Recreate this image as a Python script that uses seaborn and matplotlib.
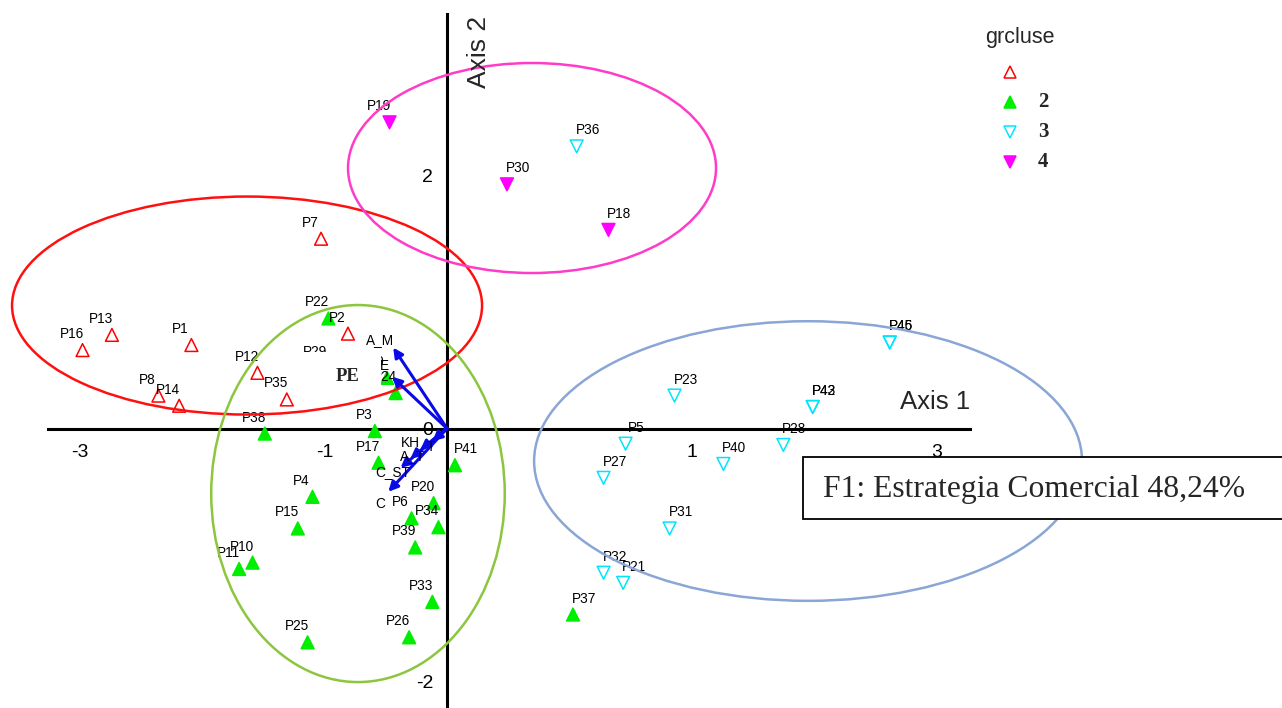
import numpy as np
import pandas as pd
import matplotlib
matplotlib.use("Agg")
import matplotlib.pyplot as plt
import seaborn as sns
from matplotlib.patches import Ellipse, Rectangle
from matplotlib.lines import Line2D

# ---------------- data ----------------
point_names = ["P16", "P13", "P1", "P12", "P8", "P14", "P35", "P2", "P7", "P29",
               "P22", "P38", "P3", "P9", "P24", "P17", "P41", "P4", "P15", "P20",
               "P6", "P34", "P39", "P10", "P11", "P33", "P25", "P26", "P37",
               "P36", "P45", "P46", "P23", "P42", "P43", "P5", "P28", "P40", "P27",
               "P31", "P32", "P21",
               "P19", "P30", "P18"]
axis1 = [-2.98, -2.74, -2.09, -1.55, -2.36, -2.19, -1.31, -0.81, -1.03, -0.99,
         -0.97, -1.49, -0.59, -0.49, -0.42, -0.56, 0.065, -1.10, -1.22, -0.11,
         -0.29, -0.07, -0.26, -1.59, -1.70, -0.12, -1.14, -0.31, 1.03,
         1.06, 3.62, 3.62, 1.86, 2.99, 2.99, 1.46, 2.75, 2.26, 1.28,
         1.82, 1.28, 1.44,
         -0.47, 0.49, 1.32]
axis2 = [0.62, 0.74, 0.66, 0.44, 0.26, 0.18, 0.23, 0.75, 1.50, 0.48,
         0.87, -0.04, -0.02, 0.40, 0.28, -0.27, -0.29, -0.54, -0.79, -0.59,
         -0.71, -0.78, -0.94, -1.06, -1.11, -1.37, -1.69, -1.65, -1.47,
         2.23, 0.68, 0.68, 0.26, 0.17, 0.17, -0.12, -0.13, -0.28, -0.39,
         -0.79, -1.14, -1.22,
         2.42, 1.93, 1.57]
grcluse = [1] * 10 + [2] * 19 + [3] * 13 + [4] * 3

# variable vectors (arrows)
var_names = ["A_M", "E", "T", "KH", "A_T", "C_ST", "C"]
var_axis1 = [-0.44, -0.45, -0.12, -0.22, -0.30, -0.38, -0.48]
var_axis2 = [0.64, 0.41, -0.10, -0.17, -0.24, -0.31, -0.50]

# cluster ellipses (centre, width, height)
ell_cluster = [1, 2, 3, 4]
ell_cx = [-1.635, -0.728, 2.952, 0.695]
ell_cy = [0.972, -0.514, -0.257, 2.059]
ell_w = [3.843, 2.40, 4.48, 3.009]
ell_h = [1.723, 2.98, 2.21, 1.66]

legend_labels = ["", "2", "3", "4"]
x_ticks = [-3, -2, -1, 1, 2, 3, 4]
x_ticklabels = ["-3", "", "-1", "", "1", "", "3"]
y_ticks = [-2, -1, 0, 1, 2, 3]
y_ticklabels = ["-2", "", "0", "", "2", ""]
box_text = "F1: Estrategia Comercial 48,24%"

# ---------------- styles ----------------
marker_col = {1: "#ff0000", 2: "#00ee00", 3: "#00e5ff", 4: "#ff00ff"}
marker_sym = {1: "^", 2: "^", 3: "v", 4: "v"}
marker_fill = {1: False, 2: True, 3: False, 4: True}
ell_col = {1: "#ff1010", 2: "#8cc63f", 3: "#8aa6d6", 4: "#ff3cc8"}

sns.set_theme(style="white")
plt.rcParams["font.family"] = ["Liberation Sans", "DejaVu Sans"]

W, H = 1282, 708
fig = plt.figure(figsize=(W / 100, H / 100), dpi=100)
ax = fig.add_axes([0, 0, 1, 1])
ax.set_xlim(-3.655, 6.827)
ax.set_ylim(-2.209, 3.387)
ax.set_facecolor("white")

df = pd.DataFrame({"name": point_names, "Axis1": axis1, "Axis2": axis2, "grcluse": grcluse})

sns.scatterplot(data=df, x="Axis1", y="Axis2", hue="grcluse", style="grcluse",
                palette=marker_col, markers=marker_sym, s=85, legend=False,
                ax=ax, zorder=3)
coll = ax.collections[-1]
fcs = [marker_col[g] if marker_fill[g] else "none" for g in df["grcluse"]]
ecs = [marker_col[g] for g in df["grcluse"]]
coll.set_facecolors(fcs)
coll.set_edgecolors(ecs)
coll.set_linewidths(1.1)

for n, x, y in zip(df["name"], df["Axis1"], df["Axis2"]):
    dx = -11 if x < 0 else 11
    ax.annotate(n, (x, y), xytext=(dx, 16), textcoords="offset pixels",
                ha="center", va="center", fontsize=9.8, color="black", zorder=4)

# white box behind "PE" (hides overlapping marks as in original)
ax.add_patch(Rectangle((-1.177, 0.225), 0.64, 0.38, facecolor="white",
                       edgecolor="none", zorder=5))
ax.text(-0.81, 0.415, "PE", family="Liberation Serif", fontweight="bold",
        fontsize=13.5, ha="center", va="center", zorder=9)

# cluster ellipses
for g, cx, cy, w, h in zip(ell_cluster, ell_cx, ell_cy, ell_w, ell_h):
    ax.add_patch(Ellipse((cx, cy), w, h, fill=False, edgecolor=ell_col[g],
                         lw=1.8, zorder=6))

# variable arrows
lab_off = {"A_M": (-13, 8), "E": (-8, 11), "T": (-1, -6), "KH": (-10, 7),
           "A_T": (2, 3), "C_ST": (-8, -4), "C": (-8, -12)}
for n, x, y in zip(var_names, var_axis1, var_axis2):
    ax.annotate("", xy=(x, y), xytext=(0, 0),
                arrowprops=dict(arrowstyle="-|>", color="#0a0ae6", lw=2.2,
                                mutation_scale=14, shrinkA=0, shrinkB=0),
                zorder=7)
    ax.annotate(n, (x, y), xytext=lab_off[n], textcoords="offset pixels",
                ha="center", va="center", fontsize=9.8, color="black", zorder=8)

# axes through origin
for s in ["top", "right"]:
    ax.spines[s].set_visible(False)
ax.spines["left"].set_position(("data", 0))
ax.spines["bottom"].set_position(("data", 0))
ax.spines["left"].set_bounds(-2.21, 3.28)
ax.spines["bottom"].set_bounds(-3.26, 4.28)
for s in ["left", "bottom"]:
    ax.spines[s].set_color("black")
    ax.spines[s].set_linewidth(2.2)
    ax.spines[s].set_zorder(2)
ax.set_xticks(x_ticks)
ax.set_xticklabels(x_ticklabels)
ax.set_yticks(y_ticks)
ax.set_yticklabels(y_ticklabels)
ax.tick_params(axis="both", direction="inout", length=10, width=1.6,
               colors="black", labelsize=14, pad=5)
ax.tick_params(axis="x", pad=6)
ax.grid(False)
ax.set_xlabel("")
ax.set_ylabel("")

# axis titles
fig.text(935 / W, 1 - 402 / H, "Axis 1", fontsize=18.5, ha="center", va="center")
fig.text(479 / W, 1 - 52 / H, "Axis 2", fontsize=19, ha="center", va="center",
         rotation=90)

# legend (drawn in figure pixel positions)
fig.text(985 / W, 1 - 37 / H, "grcluse", fontsize=15.5, ha="left", va="center")
for i, (g, lab) in enumerate(zip([1, 2, 3, 4], legend_labels)):
    yy = 1 - (72 + 30 * i) / H
    fig.add_artist(Line2D([1010 / W], [yy], marker=marker_sym[g], markersize=8,
                          markerfacecolor=marker_col[g] if marker_fill[g] else "none",
                          markeredgecolor=marker_col[g], markeredgewidth=1.1,
                          linestyle="none", transform=fig.transFigure))
    fig.text(1038 / W, yy, lab, family="Liberation Serif", fontweight="bold",
             fontsize=15, ha="left", va="center")

# text box
fig.add_artist(Rectangle((803 / W, 1 - 519 / H), (1300 - 803) / W, 62 / H,
                         transform=fig.transFigure, facecolor="white",
                         edgecolor="black", lw=1.3, clip_on=False))
fig.text(823 / W, 1 - 490 / H, box_text, family="Liberation Serif",
         fontsize=22.8, ha="left", va="center")

fig.savefig("out.png", dpi=100)
